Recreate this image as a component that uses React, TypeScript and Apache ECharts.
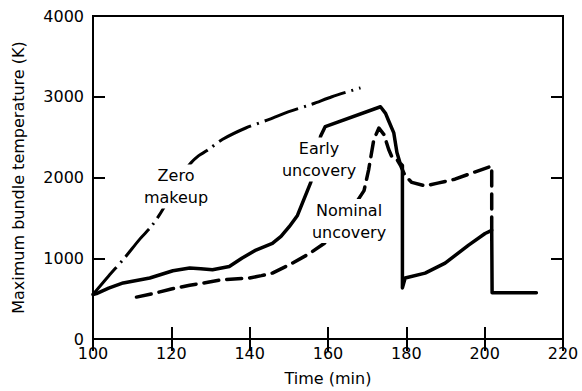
import React, { useEffect, useRef } from "react";
import * as echarts from "echarts";

const xTicks = [100, 120, 140, 160, 180, 200, 220];
const yTicks = [0, 1000, 2000, 3000, 4000];

const zeroMakeupTime = [100, 104, 108, 112, 115, 118, 121, 124.7, 127, 129, 133, 139, 145, 150, 156, 161, 168.3];
const zeroMakeupTemp = [551, 780, 1000, 1240, 1400, 1620, 1900, 2164, 2270, 2330, 2470, 2613, 2720, 2816, 2910, 3000, 3110];

const earlyTime = [100, 100.9, 104, 107.7, 114.5, 120.4, 124.7, 127.5, 130.5, 134.8, 138, 141.6, 145.8, 148, 150.1, 152.2, 155.6, 157, 158.1, 159.3, 173.4, 174.7, 175.5, 176.8, 177.6, 178.4, 179.0, 179.0, 179.7, 184.8, 189.9, 195.9, 200.1, 201.8, 201.9, 213.2];
const earlyTemp = [551, 563, 630, 694, 755, 845, 878, 870, 857, 898, 1000, 1102, 1183, 1270, 1391, 1530, 1940, 2250, 2510, 2631, 2876, 2795, 2700, 2552, 2310, 2180, 2150, 633, 755, 816, 939, 1163, 1306, 1346, 572, 572];

const nominalTime = [111.1, 116.2, 120, 124.7, 129, 133.1, 139.9, 143, 145.8, 150.1, 155, 159, 163, 166, 169.2, 170.4, 171.7, 173.0, 174.3, 175.5, 176.4, 177.6, 178.5, 179.7, 181.4, 184.8, 188, 192.4, 197, 201.8, 201.8];
const nominalTemp = [519, 572, 620, 666, 700, 735, 755, 785, 816, 918, 1050, 1182, 1400, 1600, 1837, 2102, 2470, 2613, 2531, 2347, 2245, 2225, 2150, 2020, 1939, 1897, 1930, 1979, 2060, 2142, 1346];

const labels = [
  { text: "Zero\nmakeup", x: 176, y: 186.5 },
  { text: "Early\nuncovery", x: 319, y: 159.5 },
  { text: "Nominal\nuncovery", x: 349, y: 221 },
];

const FONT = "DejaVu Sans";

function pairs(xs: number[], ys: number[]) {
  return xs.map((x, i) => [x, ys[i]]);
}

export default function App() {
  const ref = useRef<HTMLDivElement>(null);
  useEffect(() => {
    document.body.style.margin = "0";
    if (!ref.current) return;
    const chart = echarts.init(ref.current, null, { renderer: "svg" });
    chart.setOption({
      animation: false,
      grid: { left: 93, right: 19, top: 16, bottom: 49, show: true, borderColor: "#000", borderWidth: 2 },
      xAxis: [
        {
          type: "value", min: xTicks[0], max: xTicks[xTicks.length - 1], interval: 20,
          axisLine: { show: true, lineStyle: { color: "#000", width: 2 } },
          axisTick: { show: true, inside: true, length: 12, lineStyle: { color: "#000", width: 2 } },
          splitLine: { show: false },
          axisLabel: { color: "#000", fontSize: 16, fontFamily: FONT, margin: 6, formatter: (v: number) => String(v) },
          name: "Time (min)", nameLocation: "middle", nameGap: 31,
          nameTextStyle: { color: "#000", fontSize: 16, fontFamily: FONT },
        },
        {
          type: "value", min: xTicks[0], max: xTicks[xTicks.length - 1], interval: 20, position: "top",
          axisLine: { show: true, lineStyle: { color: "#000", width: 2 } },
          axisTick: { show: true, inside: true, length: 12, lineStyle: { color: "#000", width: 2 } },
          splitLine: { show: false },
          axisLabel: { show: false },
        },
      ],
      yAxis: [
        {
          type: "value", min: yTicks[0], max: yTicks[yTicks.length - 1], interval: 1000,
          axisLine: { show: true, lineStyle: { color: "#000", width: 2 } },
          axisTick: { show: true, inside: true, length: 12, lineStyle: { color: "#000", width: 2 } },
          splitLine: { show: false },
          axisLabel: { color: "#000", fontSize: 16, fontFamily: FONT, margin: 9, formatter: (v: number) => String(v) },
          name: "Maximum bundle temperature (K)", nameLocation: "middle", nameGap: 67,
          nameTextStyle: { color: "#000", fontSize: 16, fontFamily: FONT },
        },
        {
          type: "value", min: yTicks[0], max: yTicks[yTicks.length - 1], interval: 1000, position: "right",
          axisLine: { show: true, lineStyle: { color: "#000", width: 2 } },
          axisTick: { show: true, inside: true, length: 12, lineStyle: { color: "#000", width: 2 } },
          splitLine: { show: false },
          axisLabel: { show: false },
        },
      ],
      series: [
        {
          type: "line", name: "Zero makeup", data: pairs(zeroMakeupTime, zeroMakeupTemp),
          smooth: 0.3, symbol: "none",
          lineStyle: { color: "#000", width: 3, type: [36, 6, 2, 6] },
        },
        {
          type: "line", name: "Early uncovery", data: pairs(earlyTime, earlyTemp),
          smooth: false, symbol: "none",
          lineStyle: { color: "#000", width: 3.5, join: "round", cap: "round" },
        },
        {
          type: "line", name: "Nominal uncovery", data: pairs(nominalTime, nominalTemp),
          smooth: false, symbol: "none",
          lineStyle: { color: "#000", width: 3.5, type: [15, 8], cap: "round", join: "round" },
        },
      ],
      graphic: labels.map((l) => ({
        type: "text", x: l.x, y: l.y, z: 100,
        style: {
          text: l.text, fill: "#000", font: `16px "${FONT}"`,
          align: "center", verticalAlign: "middle", lineHeight: 22,
          backgroundColor: "#fff", padding: [0, 2],
        },
      })),
    });
    return () => chart.dispose();
  }, []);
  return <div ref={ref} style={{ width: 582, height: 391 }} />;
}
